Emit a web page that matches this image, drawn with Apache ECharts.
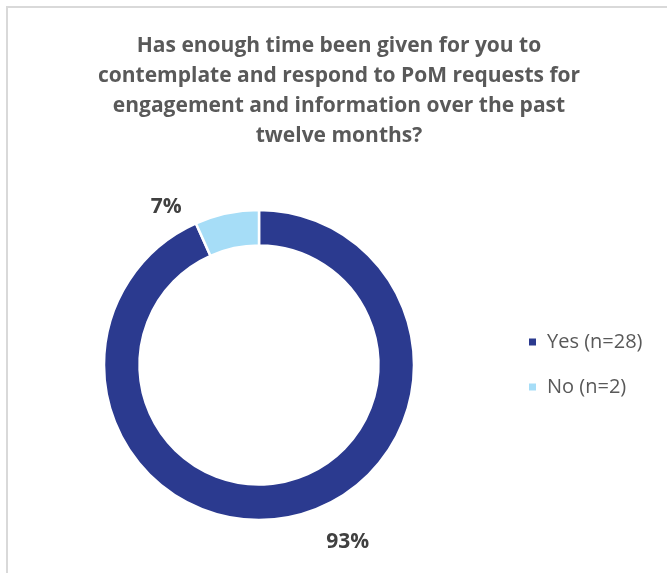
<!DOCTYPE html>
<html>
<head>
<meta charset="utf-8">
<script src="https://cdn.jsdelivr.net/npm/echarts@6/dist/echarts.min.js"></script>
<style>
  html, body { margin: 0; padding: 0; background: #fff; }
  #chart { width: 667px; height: 573px; }
</style>
</head>
<body>
<div id="chart"></div>
<script>
// Survey answers and their respondent counts
const categories = ['Yes (n=28)', 'No (n=2)'];
const counts = [28, 2];
const sliceColors = ['#2B3A8F', '#A6DDF7'];
const titleLines = [
  'Has enough time been given for you to',
  'contemplate and respond to PoM requests for',
  'engagement and information over the past',
  'twelve months?'
];

const total = counts.reduce((a, b) => a + b, 0);
const pieData = categories.map((name, i) => ({
  name: name,
  value: counts[i],
  itemStyle: { color: sliceColors[i] }
}));

// Nudges for the percentage labels, by slice
const labelShift = [
  { dx: 28, dy: 16 },
  { dx: -38, dy: 3 }
];

const chart = echarts.init(document.getElementById('chart'), null, { renderer: 'canvas' });
chart.setOption({
  animation: false,
  backgroundColor: '#ffffff',
  graphic: [{
    type: 'rect',
    shape: { x: 7, y: 7, width: 700, height: 600 },
    style: { fill: 'none', stroke: '#D9D9D9', lineWidth: 2 },
    silent: true,
    z: -10
  }],
  title: {
    text: titleLines.join('\n'),
    left: 334,
    top: 26,
    textAlign: 'center',
    textStyle: {
      fontFamily: 'Open Sans',
      fontWeight: 'bold',
      fontSize: 21,
      lineHeight: 30,
      color: '#595959'
    }
  },
  legend: {
    orient: 'vertical',
    left: 522,
    top: 327,
    itemWidth: 9,
    itemHeight: 9,
    itemGap: 25,
    icon: 'rect',
    data: categories,
    textStyle: {
      fontFamily: 'Open Sans',
      fontSize: 20,
      lineHeight: 20,
      color: '#595959',
      padding: [0, 0, 0, 5]
    }
  },
  series: [{
    type: 'pie',
    center: [259, 365],
    radius: [119.5, 155],
    startAngle: 90,
    clockwise: true,
    avoidLabelOverlap: false,
    itemStyle: { borderColor: '#ffffff', borderWidth: 2.5 },
    label: {
      show: true,
      position: 'outside',
      formatter: p => Math.round(p.value / total * 100) + '%',
      fontFamily: 'Open Sans',
      fontWeight: 'bold',
      fontSize: 21,
      color: '#404040'
    },
    labelLine: { show: false, length: 10, length2: 0 },
    labelLayout: p => labelShift[p.dataIndex],
    data: pieData
  }]
});
</script>
</body>
</html>
